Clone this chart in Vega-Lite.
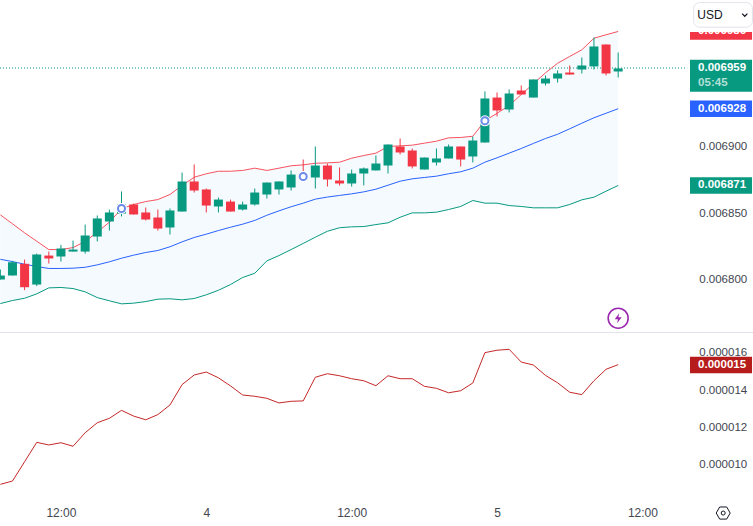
{
"$schema":"https://vega.github.io/schema/vega-lite/v6.json",
"padding":0,"background":"white","spacing":0,
"config":{"view":{"stroke":null},"concat":{"spacing":0},"axis":{"grid":false,"domain":false,"ticks":false,"title":null,"labelFont":"Liberation Sans","labelFontSize":11.5,"labelColor":"#42464f"}},
"datasets":{
"candles":[
{"h":-17,"open":0.0068,"high":0.0068075,"low":0.0068,"close":0.006803,"upper":0.0068486,"basis":0.0068152,"lower":0.0067819,"osc":0.0000089},
{"h":-16,"open":0.006803,"high":0.006814,"low":0.006803,"close":0.006813,"upper":0.0068419,"basis":0.0068135,"lower":0.0067842,"osc":0.00000908},
{"h":-15,"open":0.0068118,"high":0.006815,"low":0.006792,"close":0.0067942,"upper":0.0068351,"basis":0.0068115,"lower":0.0067859,"osc":0.00001012},
{"h":-14,"open":0.0067962,"high":0.0068195,"low":0.006795,"close":0.0068188,"upper":0.0068288,"basis":0.0068098,"lower":0.0067892,"osc":0.00001117},
{"h":-13,"open":0.006818,"high":0.006821,"low":0.006812,"close":0.0068158,"upper":0.0068225,"basis":0.0068083,"lower":0.0067937,"osc":0.00001103},
{"h":-12,"open":0.0068173,"high":0.006826,"low":0.0068135,"close":0.0068233,"upper":0.0068225,"basis":0.0068083,"lower":0.006794,"osc":0.00001115},
{"h":-11,"open":0.006821,"high":0.0068293,"low":0.006821,"close":0.0068225,"upper":0.006824,"basis":0.0068085,"lower":0.0067932,"osc":0.00001096},
{"h":-10,"open":0.006821,"high":0.0068413,"low":0.0068195,"close":0.0068331,"upper":0.0068286,"basis":0.0068092,"lower":0.0067907,"osc":0.00001169},
{"h":-9,"open":0.0068323,"high":0.0068481,"low":0.0068286,"close":0.0068459,"upper":0.0068356,"basis":0.006811,"lower":0.0067864,"osc":0.00001223},
{"h":-8,"open":0.0068436,"high":0.0068526,"low":0.0068368,"close":0.0068504,"upper":0.0068431,"basis":0.0068133,"lower":0.006784,"osc":0.00001247},
{"h":-7,"open":0.0068496,"high":0.0068662,"low":0.0068474,"close":0.0068564,"upper":0.0068532,"basis":0.006816,"lower":0.0067817,"osc":0.0000129},
{"h":-6,"open":0.0068564,"high":0.0068571,"low":0.0068489,"close":0.0068489,"upper":0.0068564,"basis":0.0068183,"lower":0.0067822,"osc":0.00001259},
{"h":-5,"open":0.0068504,"high":0.0068541,"low":0.0068444,"close":0.0068451,"upper":0.0068586,"basis":0.0068203,"lower":0.0067834,"osc":0.00001239},
{"h":-4,"open":0.0068466,"high":0.0068526,"low":0.0068368,"close":0.0068383,"upper":0.0068601,"basis":0.0068218,"lower":0.0067852,"osc":0.00001267},
{"h":-3,"open":0.0068391,"high":0.0068534,"low":0.0068338,"close":0.0068519,"upper":0.0068639,"basis":0.0068246,"lower":0.0067855,"osc":0.00001319},
{"h":-2,"open":0.0068511,"high":0.0068804,"low":0.0068511,"close":0.0068737,"upper":0.0068707,"basis":0.0068283,"lower":0.0067847,"osc":0.00001429},
{"h":-1,"open":0.0068737,"high":0.0068865,"low":0.0068654,"close":0.0068669,"upper":0.0068769,"basis":0.0068316,"lower":0.0067857,"osc":0.00001481},
{"h":0,"open":0.0068677,"high":0.0068684,"low":0.0068504,"close":0.0068556,"upper":0.0068795,"basis":0.0068341,"lower":0.0067885,"osc":0.00001497},
{"h":1,"open":0.0068549,"high":0.0068616,"low":0.0068504,"close":0.0068601,"upper":0.0068814,"basis":0.0068368,"lower":0.0067919,"osc":0.00001466},
{"h":2,"open":0.0068586,"high":0.0068601,"low":0.0068511,"close":0.0068511,"upper":0.0068814,"basis":0.0068393,"lower":0.0067962,"osc":0.00001422},
{"h":3,"open":0.0068526,"high":0.0068586,"low":0.0068519,"close":0.0068564,"upper":0.006882,"basis":0.0068416,"lower":0.0068015,"osc":0.00001373},
{"h":4,"open":0.0068564,"high":0.0068684,"low":0.0068556,"close":0.0068654,"upper":0.0068837,"basis":0.0068444,"lower":0.0068047,"osc":0.00001366},
{"h":5,"open":0.0068639,"high":0.0068729,"low":0.0068609,"close":0.0068729,"upper":0.006882,"basis":0.0068483,"lower":0.006814,"osc":0.00001355},
{"h":6,"open":0.0068677,"high":0.0068737,"low":0.0068639,"close":0.0068737,"upper":0.0068837,"basis":0.0068516,"lower":0.006818,"osc":0.0000133},
{"h":7,"open":0.0068692,"high":0.006882,"low":0.0068669,"close":0.0068789,"upper":0.0068855,"basis":0.0068547,"lower":0.0068225,"osc":0.00001339},
{"h":8,"open":0.0068789,"high":0.0068902,"low":0.0068744,"close":0.0068752,"upper":0.0068862,"basis":0.0068574,"lower":0.0068271,"osc":0.00001341},
{"h":9,"open":0.0068767,"high":0.0069,"low":0.0068684,"close":0.0068857,"upper":0.0068874,"basis":0.0068604,"lower":0.0068318,"osc":0.00001469},
{"h":10,"open":0.0068857,"high":0.0068872,"low":0.0068699,"close":0.0068752,"upper":0.0068877,"basis":0.006862,"lower":0.0068363,"osc":0.00001488},
{"h":11,"open":0.0068744,"high":0.0068842,"low":0.0068707,"close":0.0068722,"upper":0.0068882,"basis":0.0068632,"lower":0.0068389,"osc":0.00001477},
{"h":12,"open":0.0068722,"high":0.0068827,"low":0.0068699,"close":0.0068797,"upper":0.0068912,"basis":0.0068644,"lower":0.0068396,"osc":0.00001461},
{"h":13,"open":0.0068797,"high":0.0068842,"low":0.0068707,"close":0.0068835,"upper":0.0068932,"basis":0.0068659,"lower":0.0068398,"osc":0.0000145},
{"h":14,"open":0.006882,"high":0.0068932,"low":0.006882,"close":0.0068872,"upper":0.006895,"basis":0.0068679,"lower":0.0068413,"osc":0.00001423},
{"h":15,"open":0.0068857,"high":0.0069015,"low":0.0068797,"close":0.0069015,"upper":0.0069,"basis":0.0068709,"lower":0.0068426,"osc":0.00001477},
{"h":16,"open":0.0069,"high":0.006906,"low":0.006894,"close":0.0068955,"upper":0.0069005,"basis":0.0068739,"lower":0.0068468,"osc":0.00001461},
{"h":17,"open":0.006897,"high":0.0068985,"low":0.0068835,"close":0.006885,"upper":0.006901,"basis":0.0068757,"lower":0.0068501,"osc":0.00001461},
{"h":18,"open":0.0068827,"high":0.0068917,"low":0.0068827,"close":0.0068917,"upper":0.0069025,"basis":0.0068767,"lower":0.0068501,"osc":0.0000142},
{"h":19,"open":0.006888,"high":0.0068985,"low":0.0068857,"close":0.006891,"upper":0.006904,"basis":0.0068777,"lower":0.0068506,"osc":0.00001409},
{"h":20,"open":0.006891,"high":0.0069015,"low":0.006891,"close":0.0069,"upper":0.0069065,"basis":0.0068795,"lower":0.0068526,"osc":0.00001385},
{"h":21,"open":0.0069,"high":0.0069,"low":0.006885,"close":0.0068902,"upper":0.0069068,"basis":0.006881,"lower":0.0068549,"osc":0.00001396},
{"h":22,"open":0.0068925,"high":0.0069075,"low":0.006888,"close":0.0069045,"upper":0.0069077,"basis":0.0068837,"lower":0.0068594,"osc":0.00001438},
{"h":23,"open":0.006903,"high":0.0069414,"low":0.006903,"close":0.0069361,"upper":0.0069193,"basis":0.0068882,"lower":0.0068574,"osc":0.00001602},
{"h":24,"open":0.0069368,"high":0.0069406,"low":0.0069226,"close":0.0069271,"upper":0.006925,"basis":0.0068915,"lower":0.0068574,"osc":0.00001615},
{"h":25,"open":0.0069278,"high":0.0069429,"low":0.0069256,"close":0.0069399,"upper":0.0069308,"basis":0.006895,"lower":0.0068556,"osc":0.0000162},
{"h":26,"open":0.0069421,"high":0.0069459,"low":0.0069391,"close":0.0069391,"upper":0.0069391,"basis":0.0068985,"lower":0.0068549,"osc":0.00001551},
{"h":27,"open":0.0069368,"high":0.0069504,"low":0.0069368,"close":0.0069504,"upper":0.0069472,"basis":0.0069023,"lower":0.0068539,"osc":0.00001535},
{"h":28,"open":0.0069474,"high":0.0069534,"low":0.0069459,"close":0.0069511,"upper":0.0069554,"basis":0.006906,"lower":0.0068539,"osc":0.00001479},
{"h":29,"open":0.0069511,"high":0.0069572,"low":0.0069481,"close":0.0069549,"upper":0.0069626,"basis":0.0069092,"lower":0.0068539,"osc":0.00001439},
{"h":30,"open":0.0069556,"high":0.0069609,"low":0.0069541,"close":0.0069541,"upper":0.0069677,"basis":0.0069133,"lower":0.0068564,"osc":0.00001388},
{"h":31,"open":0.0069579,"high":0.0069669,"low":0.0069549,"close":0.0069609,"upper":0.0069727,"basis":0.0069175,"lower":0.0068599,"osc":0.00001375},
{"h":32,"open":0.0069602,"high":0.006982,"low":0.0069579,"close":0.0069752,"upper":0.0069814,"basis":0.0069216,"lower":0.0068619,"osc":0.0000145},
{"h":33,"open":0.0069767,"high":0.0069767,"low":0.0069534,"close":0.0069549,"upper":0.006984,"basis":0.006925,"lower":0.0068664,"osc":0.00001512},
{"h":34,"open":0.0069564,"high":0.0069707,"low":0.0069519,"close":0.0069587,"upper":0.0069865,"basis":0.0069284,"lower":0.0068707,"osc":0.00001537}
],
"priceTags":[
{"label":"0.006986","price":0.0069865,"tone":"down"},
{"label":"0.006959","price":0.006959,"tone":"last"},
{"label":"05:45","price":0.0069474,"tone":"timer"},
{"label":"0.006928","price":0.0069284,"tone":"basis"},
{"label":"0.006871","price":0.0068707,"tone":"last"}
],
"signals":[
{"h":-7,"price":0.0068534},
{"h":8,"price":0.0068774},
{"h":23,"price":0.0069193}
],
"oscTag":[{"label":"0.000015","osc":0.00001535}]
},
"vconcat":[
{"width":753,"height":331,"layer":[
{"data":{"name":"candles"},"mark":{"type":"area","color":"#2196f3","opacity":0.05,"clip":true},"encoding":{
"x":{"field":"h","type":"quantitative","scale":{"domain":[-17.03,45.13],"nice":false,"zero":false,"padding":0},"axis":null},
"y":{"field":"upper","type":"quantitative","scale":{"domain":[0.00676128,0.00701015],"nice":false,"zero":false},"axis":{"orient":"right","values":[0.0068,0.00685,0.0069],"format":".6f","labelAlign":"right","labelPadding":-6.3,"labelOverlap":false,"labelBound":false,"labelFlush":false}},
"y2":{"field":"lower"}}},
{"data":{"values":[{"price":0.006959}]},"mark":{"type":"rule","stroke":"#089981","strokeWidth":1,"strokeDash":[1,2],"opacity":1,"clip":true},"encoding":{"x":{"datum":-17.03,"type":"quantitative"},"x2":{"datum":39.7},"y":{"field":"price","type":"quantitative"}}},
{"data":{"name":"candles"},"mark":{"type":"line","color":"#f7525f","strokeWidth":1,"clip":true},"encoding":{"x":{"field":"h","type":"quantitative","axis":null},"y":{"field":"upper","type":"quantitative"}}},
{"data":{"name":"candles"},"mark":{"type":"line","color":"#2962ff","strokeWidth":1,"clip":true},"encoding":{"x":{"field":"h","type":"quantitative","axis":null},"y":{"field":"basis","type":"quantitative"}}},
{"data":{"name":"candles"},"mark":{"type":"line","color":"#089981","strokeWidth":1,"clip":true},"encoding":{"x":{"field":"h","type":"quantitative","axis":null},"y":{"field":"lower","type":"quantitative"}}},
{"data":{"name":"candles"},"mark":{"type":"rule","strokeWidth":1,"clip":true},"encoding":{"x":{"field":"h","type":"quantitative","axis":null},"y":{"field":"low","type":"quantitative"},"y2":{"field":"high"},"color":{"condition":{"test":"datum.close>=datum.open","value":"#089981"},"value":"#f23645"}}},
{"data":{"name":"candles"},"mark":{"type":"bar","size":9,"orient":"vertical","clip":true},"encoding":{"x":{"field":"h","type":"quantitative","axis":null},"y":{"field":"open","type":"quantitative"},"y2":{"field":"close"},"color":{"condition":{"test":"datum.close>=datum.open","value":"#089981"},"value":"#f23645"}}},
{"data":{"name":"signals"},"mark":{"type":"point","filled":true,"color":"white","size":120,"opacity":1},"encoding":{"x":{"field":"h","type":"quantitative","axis":null},"y":{"field":"price","type":"quantitative"}}},
{"data":{"name":"signals"},"mark":{"type":"point","shape":"circle","fill":"white","stroke":"#6d8ae8","strokeWidth":2,"size":50,"opacity":1,"fillOpacity":1},"encoding":{"x":{"field":"h","type":"quantitative","axis":null},"y":{"field":"price","type":"quantitative"}}},
{"data":{"name":"priceTags"},"mark":{"type":"rule","strokeWidth":16.5,"clip":true},"encoding":{"x":{"datum":39.93,"type":"quantitative"},"x2":{"datum":45.05},"y":{"field":"price","type":"quantitative"},"color":{"field":"tone","type":"nominal","legend":null,"scale":{"domain":["down","last","timer","basis"],"range":["#f23645","#089981","#089981","#2962ff"]}}}},
{"data":{"name":"priceTags"},"mark":{"type":"text","align":"left","baseline":"middle","font":"Liberation Sans","fontSize":11.5,"fontWeight":"bold"},"encoding":{"x":{"datum":40.6,"type":"quantitative"},"y":{"field":"price","type":"quantitative"},"text":{"field":"label"},"color":{"condition":{"test":"datum.tone==='timer'","value":"#b3e0d7"},"value":"white"}}},
{"data":{"values":[{"top":0.00701015,"bottom":0.0069861}]},"mark":{"type":"rect","color":"white"},"encoding":{"x":{"datum":39.93,"type":"quantitative"},"x2":{"datum":45.13},"y":{"field":"top","type":"quantitative"},"y2":{"field":"bottom"}}},
{"data":{"values":[{"top":0.0070082,"bottom":0.0069897}]},"mark":{"type":"rect","fill":"white","stroke":"#e0e3eb","strokeWidth":1,"cornerRadius":6,"clip":true},"encoding":{"x":{"datum":40.23,"type":"quantitative"},"x2":{"datum":45.08},"y":{"field":"top","type":"quantitative"},"y2":{"field":"bottom"}}},
{"data":{"values":[{"price":0.0069989,"label":"USD"}]},"mark":{"type":"text","align":"left","baseline":"middle","font":"Liberation Sans","fontSize":12,"color":"#131722"},"encoding":{"x":{"datum":40.53,"type":"quantitative"},"y":{"field":"price","type":"quantitative"},"text":{"field":"label"}}},
{"data":{"values":[{"price":0.0069989}]},"mark":{"type":"point","shape":"M-1,-0.5L0,0.5L1,-0.5","filled":false,"stroke":"#131722","strokeWidth":1.2,"size":28,"opacity":1},"encoding":{"x":{"datum":44.45,"type":"quantitative"},"y":{"field":"price","type":"quantitative"}}},
{"data":{"values":[{"price":0.0067709}]},"mark":{"type":"point","shape":"circle","filled":false,"stroke":"#9c27b0","strokeWidth":1.6,"size":400,"opacity":1},"encoding":{"x":{"datum":34,"type":"quantitative"},"y":{"field":"price","type":"quantitative"}}},
{"data":{"values":[{"price":0.0067709}]},"mark":{"type":"point","shape":"M0.2,-1L-0.7,0.2L-0.05,0.2L-0.2,1L0.7,-0.2L0.05,-0.2Z","filled":true,"color":"#9c27b0","size":100,"opacity":1},"encoding":{"x":{"datum":34,"type":"quantitative"},"y":{"field":"price","type":"quantitative"}}}
]},
{"width":753,"height":195,"layer":[
{"data":{"name":"candles"},"mark":{"type":"line","color":"#c62828","strokeWidth":1,"clip":true},"encoding":{
"x":{"field":"h","type":"quantitative","scale":{"domain":[-17.03,45.13],"nice":false,"zero":false,"padding":0},"axis":{"orient":"bottom","values":[-12,0,12,24,36],"labelExpr":"datum.value===0?'4':datum.value===24?'5':'12:00'","labelBaseline":"middle","labelAlign":"center","labelPadding":-14.5,"labelOverlap":false,"labelFlush":false,"labelFontSize":12}},
"y":{"field":"osc","type":"quantitative","scale":{"domain":[0.000006595,0.000017135],"nice":false,"zero":false},"axis":{"orient":"right","values":[0.00001,0.000012,0.000014,0.000016],"format":".6f","labelAlign":"right","labelPadding":-6.3,"labelOverlap":false,"labelBound":false,"labelFlush":false}}}},
{"data":{"values":[{"osc":0.00001711}]},"mark":{"type":"rule","color":"#e0e3eb","strokeWidth":1,"clip":true},"encoding":{"x":{"datum":-17.03,"type":"quantitative"},"x2":{"datum":45.13},"y":{"field":"osc","type":"quantitative"}}},
{"data":{"name":"oscTag"},"mark":{"type":"rule","color":"#b71c1c","strokeWidth":16.5,"clip":true},"encoding":{"x":{"datum":39.93,"type":"quantitative"},"x2":{"datum":45.05},"y":{"field":"osc","type":"quantitative"}}},
{"data":{"name":"oscTag"},"mark":{"type":"text","align":"left","baseline":"middle","font":"Liberation Sans","fontSize":11.5,"fontWeight":"bold","color":"white"},"encoding":{"x":{"datum":40.6,"type":"quantitative"},"y":{"field":"osc","type":"quantitative"},"text":{"field":"label"}}},
{"data":{"values":[{"osc":0.00000735}]},"mark":{"type":"point","shape":"M-1,0L-0.5,-0.866L0.5,-0.866L1,0L0.5,0.866L-0.5,0.866Z","filled":false,"stroke":"#131722","strokeWidth":1,"size":196,"opacity":1},"encoding":{"x":{"datum":42.67,"type":"quantitative"},"y":{"field":"osc","type":"quantitative"}}},
{"data":{"values":[{"osc":0.00000735}]},"mark":{"type":"point","shape":"circle","filled":false,"stroke":"#131722","strokeWidth":1,"size":16,"opacity":1},"encoding":{"x":{"datum":42.67,"type":"quantitative"},"y":{"field":"osc","type":"quantitative"}}}
]}
]
}
